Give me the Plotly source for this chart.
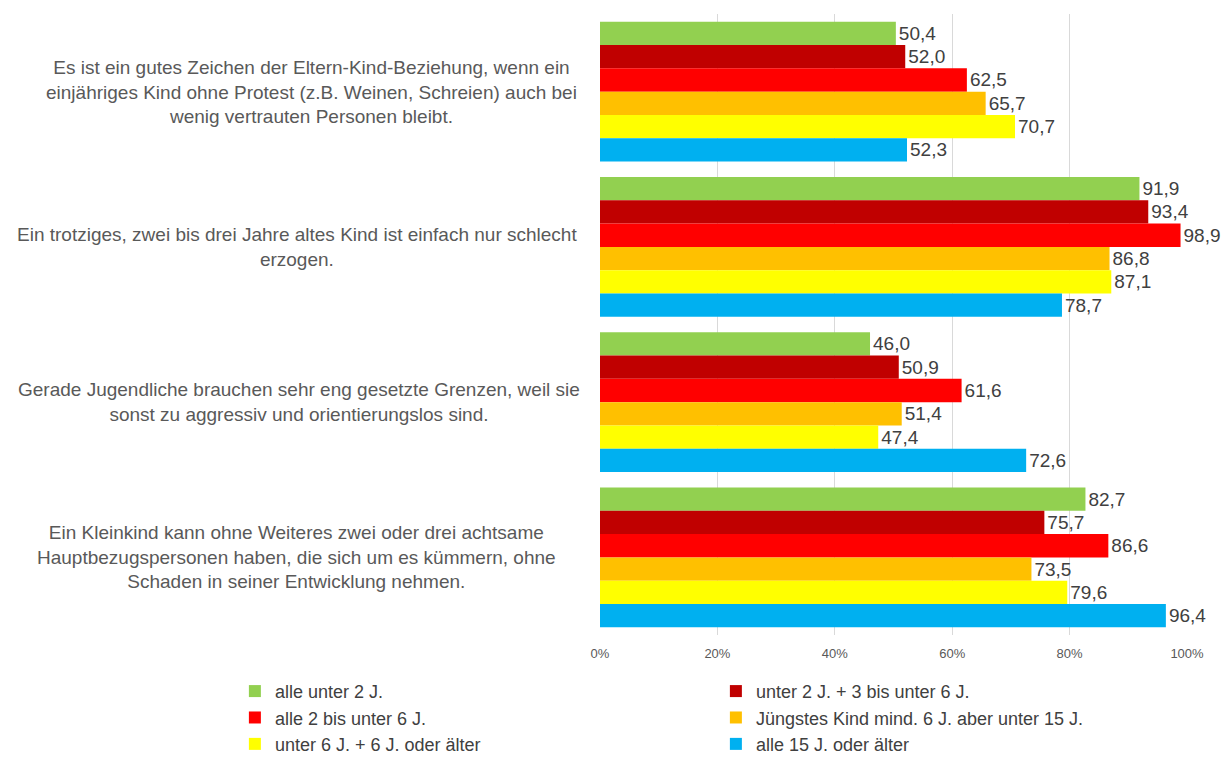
import plotly.graph_objects as go

statements = [
    'Es ist ein gutes Zeichen der Eltern-Kind-Beziehung, wenn ein<br>einjähriges Kind ohne Protest (z.B. Weinen, Schreien) auch bei<br>wenig vertrauten Personen bleibt.',
    'Ein trotziges, zwei bis drei Jahre altes Kind ist einfach nur schlecht<br>erzogen.',
    'Gerade Jugendliche brauchen sehr eng gesetzte Grenzen, weil sie<br>sonst zu aggressiv und orientierungslos sind.',
    'Ein Kleinkind kann ohne Weiteres zwei oder drei achtsame<br>Hauptbezugspersonen haben, die sich um es kümmern, ohne<br>Schaden in seiner Entwicklung nehmen.',
]
categories = ['s1', 's2', 's3', 's4']

groups = [
    'alle unter 2 J.',
    'unter 2 J. + 3 bis unter 6 J.',
    'alle 2 bis unter 6 J.',
    'Jüngstes Kind mind. 6 J. aber unter 15 J.',
    'unter 6 J. + 6 J. oder älter',
    'alle 15 J. oder älter',
]
colors = ['#92D050', '#C00000', '#FF0000', '#FFC000', '#FFFF00', '#00B0F0']

alle_unter_2 = [50.4, 91.9, 46.0, 82.7]
unter_2_plus_3_6 = [52.0, 93.4, 50.9, 75.7]
alle_2_6 = [62.5, 98.9, 61.6, 86.6]
juengstes_6_15 = [65.7, 86.8, 51.4, 73.5]
unter_6_plus_6 = [70.7, 87.1, 47.4, 79.6]
alle_15 = [52.3, 78.7, 72.6, 96.4]

series = [alle_unter_2, unter_2_plus_3_6, alle_2_6, juengstes_6_15, unter_6_plus_6, alle_15]

PLOT_L, PLOT_W = 600, 587

fig = go.Figure()
for name, color, vals in zip(groups, colors, series):
    fig.add_trace(go.Bar(
        y=categories,
        x=vals,
        name=name,
        orientation='h',
        marker=dict(color=color, line=dict(width=0)),
        text=[f'{v:.1f}'.replace('.', ',') for v in vals],
        textposition='outside',
        textfont=dict(size=19, color='#404040'),
        constraintext='none',
        cliponaxis=False,
    ))

# statement labels: centred lines around a common centre left of the plot
label_centres = [311, 297, 299, 296]
for cat, label, cx in zip(categories, statements, label_centres):
    fig.add_annotation(
        x=(cx - PLOT_L) / PLOT_W, xref='paper', y=cat, yref='y',
        text=label, showarrow=False,
        xanchor='center', yanchor='middle', align='center',
        font=dict(size=19, color='#595959'),
    )

fig.update_layout(
    width=1221, height=758,
    margin=dict(l=PLOT_L, r=1221 - PLOT_L - PLOT_W, t=14, b=123, autoexpand=False),
    barmode='group', bargap=0.1, bargroupgap=0,
    plot_bgcolor='white', paper_bgcolor='white',
    font=dict(family='Liberation Sans, Arial, sans-serif', color='#595959'),
    xaxis=dict(
        range=[0, 100], dtick=20, ticksuffix='%',
        showgrid=True, gridcolor='#D9D9D9', gridwidth=1,
        zeroline=False, showline=False,
        tickfont=dict(size=13, color='#595959'),
        ticklabelstandoff=9,
    ),
    yaxis=dict(
        autorange='reversed', showticklabels=False,
        showgrid=False, zeroline=False, showline=False,
    ),
    legend=dict(
        orientation='h', x=-0.622, xanchor='left', y=-0.061, yanchor='top',
        entrywidth=436, traceorder='normal',
        font=dict(size=18, color='#404040'),
        itemclick=False,
    ),
)

fig.write_html('out.html', config={'displayModeBar': False},
               post_script="document.body.style.margin='0';")
